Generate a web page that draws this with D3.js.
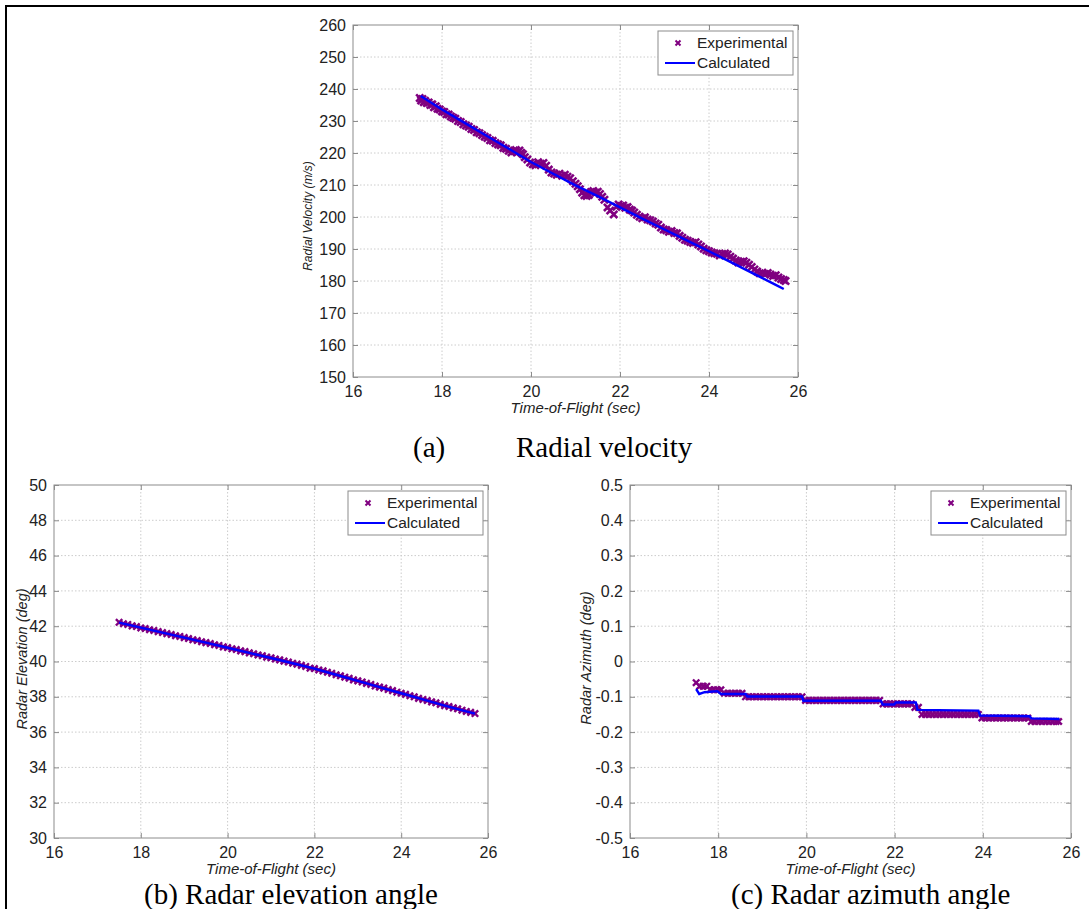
<!DOCTYPE html>
<html><head><meta charset="utf-8">
<script src="https://cdn.jsdelivr.net/npm/d3@7"></script>
<style>body{margin:0;background:#fff}svg{display:block}</style>
</head><body>
<svg id="fig" width="1089" height="909"></svg>
<script>
// ---------------- DATA ----------------
const timeTicks = [16, 18, 20, 22, 24, 26];
const velTicks = [150, 160, 170, 180, 190, 200, 210, 220, 230, 240, 250, 260];
const elevTicks = [30, 32, 34, 36, 38, 40, 42, 44, 46, 48, 50];
const azTicks = [-0.5, -0.4, -0.3, -0.2, -0.1, 0, 0.1, 0.2, 0.3, 0.4, 0.5];
const legendLabels = ["Experimental", "Calculated"];
const captions = ["(a)", "Radial velocity", "(b) Radar elevation angle", "(c) Radar azimuth angle"];

// (a) radial velocity, experimental samples
const velExpT = [17.50,17.53,17.56,17.59,17.62,17.66,17.70,17.74,17.78,17.82,17.86,17.90,17.95,18.00,18.05,18.10,18.15,18.20,18.25,18.30,18.36,18.42,18.48,18.54,18.60,18.66,18.72,18.78,18.84,18.90,18.96,19.02,19.08,19.14,19.20,19.26,19.32,19.38,19.44,19.50,19.56,19.62,19.66,19.70,19.74,19.78,19.82,19.86,19.92,19.98,20.04,20.10,20.16,20.22,20.28,20.34,20.40,20.46,20.52,20.58,20.64,20.70,20.76,20.82,20.88,20.94,21.00,21.05,21.10,21.15,21.20,21.25,21.30,21.35,21.40,21.45,21.50,21.55,21.60,21.65,21.72,21.78,21.86,21.92,21.97,22.02,22.07,22.12,22.17,22.22,22.27,22.32,22.38,22.44,22.50,22.56,22.62,22.68,22.74,22.80,22.86,22.92,22.98,23.04,23.10,23.16,23.22,23.28,23.34,23.40,23.46,23.52,23.58,23.64,23.70,23.76,23.82,23.88,23.94,24.00,24.06,24.12,24.18,24.24,24.30,24.36,24.42,24.48,24.54,24.60,24.66,24.72,24.78,24.84,24.90,24.96,25.02,25.08,25.14,25.20,25.26,25.32,25.38,25.44,25.50,25.56,25.62,25.68,25.72];
const velExpV = [237.2,236.4,236.9,235.9,236.3,235.6,235.8,235.0,235.2,234.3,234.6,233.8,233.6,233.0,232.8,232.1,232.0,231.4,231.0,230.7,230.0,229.7,229.0,228.6,228.2,227.5,227.2,226.5,226.2,225.6,225.1,224.7,224.0,223.8,223.1,222.7,222.4,221.6,221.3,220.7,220.2,220.6,220.9,220.3,220.8,220.1,219.6,218.7,218.0,217.0,216.5,216.2,217.1,216.6,216.9,216.0,214.8,213.9,213.6,213.2,213.5,212.9,213.2,212.6,212.1,211.2,210.4,209.6,208.7,207.6,206.8,206.6,206.9,207.8,208.1,207.6,207.9,207.2,206.3,205.4,203.0,202.0,200.8,203.2,203.9,203.4,203.6,202.9,203.1,202.3,202.0,201.4,200.7,200.1,199.6,199.9,199.2,199.0,198.6,198.0,197.6,196.7,196.1,195.9,195.4,195.6,195.0,194.9,194.1,193.5,192.9,192.6,192.2,191.9,192.1,191.4,190.8,190.1,189.6,189.3,188.9,188.7,188.5,188.0,188.4,188.6,188.3,187.6,187.0,186.4,185.8,186.0,186.2,185.7,185.1,184.4,183.6,183.0,182.4,182.6,182.2,182.5,182.0,181.6,181.8,181.1,180.6,180.3,180.0];
// (a) radial velocity, calculated
const velCalcT = [17.52,18.0,18.5,19.0,19.5,20.0,20.5,21.0,21.5,22.0,22.5,23.0,23.5,24.0,24.5,25.0,25.5,25.68];
const velCalcV = [237.8,233.6,229.5,225.4,221.3,217.2,213.5,209.9,206.5,203.0,199.5,196.1,192.7,189.3,185.8,182.3,178.8,177.5];

// (b) radar elevation, experimental samples
const elevExpT = [17.5,17.6,17.7,17.8,17.9,18.0,18.1,18.2,18.3,18.4,18.5,18.6,18.7,18.8,18.9,19.0,19.1,19.2,19.3,19.4,19.5,19.6,19.7,19.8,19.9,20.0,20.1,20.2,20.3,20.4,20.5,20.6,20.7,20.8,20.9,21.0,21.1,21.2,21.3,21.4,21.5,21.6,21.7,21.8,21.9,22.0,22.1,22.2,22.3,22.4,22.5,22.6,22.7,22.8,22.9,23.0,23.1,23.2,23.3,23.4,23.5,23.6,23.7,23.8,23.9,24.0,24.1,24.2,24.3,24.4,24.5,24.6,24.7,24.8,24.9,25.0,25.1,25.2,25.3,25.4,25.5,25.6,25.7];
const elevExpV = [42.22,42.14,42.10,42.02,41.98,41.90,41.87,41.80,41.76,41.69,41.64,41.58,41.53,41.46,41.42,41.35,41.30,41.23,41.19,41.12,41.07,41.02,40.95,40.91,40.83,40.79,40.72,40.68,40.60,40.56,40.49,40.44,40.37,40.33,40.25,40.21,40.14,40.09,40.02,39.97,39.90,39.85,39.78,39.72,39.62,39.60,39.52,39.47,39.39,39.33,39.25,39.19,39.11,39.05,38.96,38.90,38.84,38.76,38.70,38.61,38.55,38.49,38.41,38.35,38.26,38.20,38.14,38.06,38.00,37.91,37.85,37.79,37.71,37.66,37.57,37.50,37.45,37.37,37.32,37.24,37.17,37.12,37.05];
// (b) radar elevation, calculated
const elevCalcT = [17.5,18.0,18.5,19.0,19.5,20.0,20.5,21.0,21.5,22.0,22.5,23.0,23.5,24.0,24.5,25.0,25.5,25.7];
const elevCalcV = [42.2,41.92,41.64,41.35,41.07,40.78,40.49,40.2,39.9,39.6,39.25,38.9,38.55,38.2,37.85,37.5,37.17,37.05];

// (c) radar azimuth, experimental samples
const azExpT = [17.50,17.58,17.66,17.74,17.82,17.90,17.98,18.06,18.14,18.22,18.30,18.38,18.46,18.54,18.62,18.70,18.78,18.86,18.94,19.02,19.10,19.18,19.26,19.34,19.42,19.50,19.58,19.66,19.74,19.82,19.90,19.98,20.06,20.14,20.22,20.30,20.38,20.46,20.54,20.62,20.70,20.78,20.86,20.94,21.02,21.10,21.18,21.26,21.34,21.42,21.50,21.58,21.66,21.74,21.82,21.90,21.98,22.06,22.14,22.22,22.30,22.38,22.46,22.54,22.62,22.70,22.78,22.86,22.94,23.02,23.10,23.18,23.26,23.34,23.42,23.50,23.58,23.66,23.74,23.82,23.90,23.98,24.06,24.14,24.22,24.30,24.38,24.46,24.54,24.62,24.70,24.78,24.86,24.94,25.02,25.10,25.18,25.26,25.34,25.42,25.50,25.58,25.66,25.72];
const azExpV = [-0.06,-0.07,-0.07,-0.07,-0.08,-0.08,-0.08,-0.08,-0.09,-0.09,-0.09,-0.09,-0.09,-0.09,-0.10,-0.10,-0.10,-0.10,-0.10,-0.10,-0.10,-0.10,-0.10,-0.10,-0.10,-0.10,-0.10,-0.10,-0.10,-0.10,-0.10,-0.11,-0.11,-0.11,-0.11,-0.11,-0.11,-0.11,-0.11,-0.11,-0.11,-0.11,-0.11,-0.11,-0.11,-0.11,-0.11,-0.11,-0.11,-0.11,-0.11,-0.11,-0.11,-0.12,-0.12,-0.12,-0.12,-0.12,-0.12,-0.12,-0.12,-0.12,-0.13,-0.13,-0.15,-0.15,-0.15,-0.15,-0.15,-0.15,-0.15,-0.15,-0.15,-0.15,-0.15,-0.15,-0.15,-0.15,-0.15,-0.15,-0.15,-0.16,-0.16,-0.16,-0.16,-0.16,-0.16,-0.16,-0.16,-0.16,-0.16,-0.16,-0.16,-0.16,-0.16,-0.17,-0.17,-0.17,-0.17,-0.17,-0.17,-0.17,-0.17,-0.17];
// (c) radar azimuth, calculated
const azCalcT = [17.50,17.57,17.69,17.98,18.06,18.62,18.66,19.90,19.93,21.69,21.73,21.99,22.03,22.48,22.52,23.90,23.94,25.06,25.10,25.74];
const azCalcV = [-0.078,-0.092,-0.087,-0.084,-0.092,-0.092,-0.099,-0.099,-0.111,-0.111,-0.122,-0.122,-0.116,-0.116,-0.137,-0.139,-0.153,-0.155,-0.161,-0.163];

// ---------------- DRAWING ----------------
const svg = d3.select("#fig");
const EXP_COLOR = "#800080", CALC_COLOR = "#0000ff";
const FRAME = "#8c8c8c", GRID = "#cccccc", TXT = "#222";
const SANS = "'Liberation Sans', Arial, sans-serif";
const SERIF = "'Liberation Serif', 'Times New Roman', serif";

// page frame lines
svg.append("line").attr("x1", 5).attr("x2", 1089).attr("y1", 6).attr("y2", 6).attr("stroke", "#000").attr("stroke-width", 2);
svg.append("line").attr("x1", 6).attr("x2", 6).attr("y1", 5).attr("y2", 909).attr("stroke", "#000").attr("stroke-width", 2);

const xMark = s => `M${-s},${-s}L${s},${s}M${-s},${s}L${s},${-s}`;

function chart(c) {
  const g = svg.append("g");
  const x = d3.scaleLinear().domain([16, 26]).range([c.x0, c.x1]);
  const y = d3.scaleLinear().domain(c.yDomain).range([c.y1, c.y0]);

  // grid
  g.append("g").selectAll("line").data(timeTicks.slice(1, -1)).join("line")
    .attr("x1", d => x(d)).attr("x2", d => x(d)).attr("y1", c.y0).attr("y2", c.y1)
    .attr("stroke", GRID).attr("stroke-dasharray", "1.5,2");
  g.append("g").selectAll("line").data(c.yTicks.slice(1, -1)).join("line")
    .attr("y1", d => y(d)).attr("y2", d => y(d)).attr("x1", c.x0).attr("x2", c.x1)
    .attr("stroke", GRID).attr("stroke-dasharray", "1.5,2");

  // axes (ticks inside) using d3 axes
  const axStyle = sel => {
    sel.select(".domain").remove();
    sel.selectAll(".tick line").attr("stroke", FRAME);
    sel.selectAll("text").attr("fill", TXT).style("font-family", SANS).style("font-size", "16px");
  };
  g.append("g").attr("transform", `translate(0,${c.y1})`)
    .call(d3.axisBottom(x).tickValues(timeTicks).tickSize(-5).tickPadding(9)).call(axStyle);
  g.append("g").attr("transform", `translate(0,${c.y0})`)
    .call(d3.axisTop(x).tickValues(timeTicks).tickSize(-5).tickFormat("")).call(axStyle);
  g.append("g").attr("transform", `translate(${c.x0},0)`)
    .call(d3.axisLeft(y).tickValues(c.yTicks).tickSize(-5).tickPadding(7).tickFormat(c.fmt)).call(axStyle);
  g.append("g").attr("transform", `translate(${c.x1},0)`)
    .call(d3.axisRight(y).tickValues(c.yTicks).tickSize(-5).tickFormat("")).call(axStyle);

  // frame
  g.append("rect").attr("x", c.x0).attr("y", c.y0).attr("width", c.x1 - c.x0).attr("height", c.y1 - c.y0)
    .attr("fill", "none").attr("stroke", FRAME).attr("stroke-width", 1);

  // experimental markers
  g.append("g").selectAll("path").data(c.expT.map((t, i) => [t, c.expV[i]])).join("path")
    .attr("transform", d => `translate(${x(d[0])},${y(d[1])})`)
    .attr("d", xMark(c.ms)).attr("stroke", EXP_COLOR).attr("stroke-width", c.mw).attr("fill", "none");

  // calculated line
  const line = d3.line().x(d => x(d[0])).y(d => y(d[1]));
  g.append("path").datum(c.calcT.map((t, i) => [t, c.calcV[i]]))
    .attr("d", line).attr("fill", "none").attr("stroke", CALC_COLOR).attr("stroke-width", 2.4);

  // axis titles
  g.append("text").attr("x", (c.x0 + c.x1) / 2).attr("y", c.y1 + 36)
    .attr("text-anchor", "middle").style("font-family", SANS).style("font-size", "15px")
    .style("font-style", "italic").attr("fill", TXT).text("Time-of-Flight (sec)");
  g.append("text").attr("transform", `translate(${c.ytX},${c.ytY}) rotate(-90)`)
    .attr("text-anchor", "middle").attr("dy", "0.35em").style("font-family", SANS).style("font-size", c.ytSize)
    .style("font-style", "italic").attr("fill", TXT).text(c.ytitle);

  // legend
  const lw = 135, lh = 44, lx = c.x1 - 5 - lw, ly = c.y0 + 6;
  const lg = g.append("g").attr("transform", `translate(${lx},${ly})`);
  lg.append("rect").attr("width", lw).attr("height", lh).attr("fill", "#fff").attr("stroke", FRAME);
  lg.append("path").attr("transform", "translate(20,12)").attr("d", xMark(2.5))
    .attr("stroke", EXP_COLOR).attr("stroke-width", 2);
  lg.append("line").attr("x1", 7).attr("x2", 37).attr("y1", 32).attr("y2", 32)
    .attr("stroke", CALC_COLOR).attr("stroke-width", 2);
  lg.selectAll("text").data(legendLabels).join("text")
    .attr("x", 39).attr("y", (d, i) => 12 + i * 20).attr("dy", "0.35em")
    .style("font-family", SANS).style("font-size", "15.5px").attr("fill", TXT).text(d => d);
}

chart({x0: 353, x1: 798, y0: 25, y1: 377, yDomain: [150, 260], yTicks: velTicks, fmt: d3.format("d"),
  expT: velExpT, expV: velExpV, calcT: velCalcT, calcV: velCalcV, ms: 3.6, mw: 2.6,
  ytitle: "Radial Velocity (m/s)", ytX: 308, ytY: 216, ytSize: "12px"});
chart({x0: 54, x1: 488, y0: 485, y1: 838, yDomain: [30, 50], yTicks: elevTicks, fmt: d3.format("d"),
  expT: elevExpT, expV: elevExpV, calcT: elevCalcT, calcV: elevCalcV, ms: 3.2, mw: 2.4,
  ytitle: "Radar Elevation (deg)", ytX: 22, ytY: 659, ytSize: "14.5px"});
chart({x0: 630, x1: 1071, y0: 485, y1: 838, yDomain: [-0.5, 0.5], yTicks: azTicks,
  fmt: d => d === 0 ? "0" : d.toFixed(1),
  expT: azExpT, expV: azExpV, calcT: azCalcT, calcV: azCalcV, ms: 3.2, mw: 2.4,
  ytitle: "Radar Azimuth (deg)", ytX: 586, ytY: 658, ytSize: "14.5px"});

// captions
const cap = (txt, x, y) => svg.append("text").attr("x", x).attr("y", y)
  .style("font-family", SERIF).style("font-size", "29px").attr("fill", "#000").text(txt);
cap(captions[0], 413, 457);
cap(captions[1], 516, 457);
cap(captions[2], 144, 904);
cap(captions[3], 731, 904);
</script>
</body></html>
